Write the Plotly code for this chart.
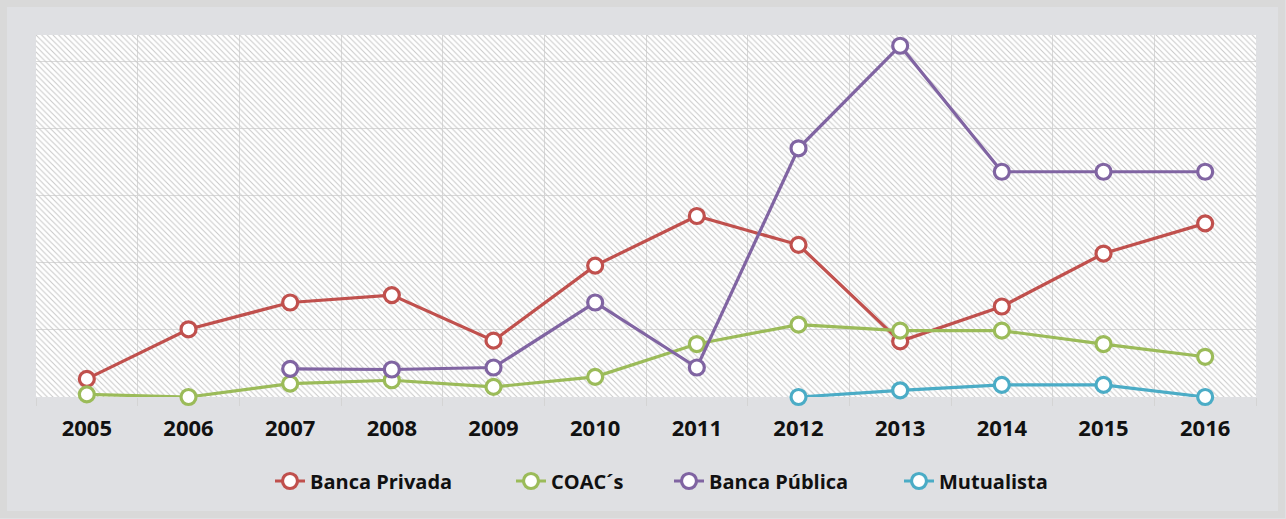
import plotly.graph_objects as go

years = ["2005", "2006", "2007", "2008", "2009", "2010",
         "2011", "2012", "2013", "2014", "2015", "2016"]

banca_privada = [0.27, 1.01, 1.41, 1.52, 0.84, 1.96, 2.70, 2.27, 0.83, 1.35, 2.14, 2.59]
coacs = [0.04, 0.00, 0.20, 0.25, 0.15, 0.30, 0.79, 1.08, 0.99, 0.99, 0.79, 0.60]
banca_publica = [None, None, 0.42, 0.41, 0.44, 1.41, 0.44, 3.71, 5.24, 3.36, 3.36, 3.36]
mutualista = [None, None, None, None, None, None, None, 0.00, 0.10, 0.18, 0.18, 0.00]

series = [
    ("Banca Privada", banca_privada, "#c0504d"),
    ("COAC´s", coacs, "#9bbb59"),
    ("Banca Pública", banca_publica, "#8064a2"),
    ("Mutualista", mutualista, "#4bacc6"),
]

# left pixel position of each legend label
legend_text_x = [312, 553, 711, 941]

y_top = 5.4
x_pos = list(range(len(years)))

W, H = 1286, 519
ml, mr, mt, mb = 36, 30, 35, 122
pw, ph = W - ml - mr, H - mt - mb

fx = lambda px: (px - ml) / pw
fy = lambda py: (H - mb - py) / ph

fig = go.Figure()

# hatched plot background
fig.add_trace(go.Bar(
    x=[(len(years) - 1) / 2], y=[y_top], width=[len(years)],
    marker=dict(color="rgba(0,0,0,0)", line=dict(width=0),
                pattern=dict(shape="\\", size=4, solidity=0.25,
                             fgcolor="#c8c8c8", fillmode="replace")),
    showlegend=False, hoverinfo="skip",
))

legend_ids = ["legend", "legend2", "legend3", "legend4"]
for (name, vals, color), lid in zip(series, legend_ids):
    fig.add_trace(go.Scatter(
        x=x_pos, y=vals, name=name, mode="lines+markers",
        line=dict(color=color, width=3.2),
        marker=dict(symbol="circle", size=15, color="white",
                    line=dict(color=color, width=3.2)),
        cliponaxis=False, connectgaps=False, legend=lid,
    ))

# outer frame around the whole chart
fig.add_shape(type="rect", xref="paper", yref="paper",
              x0=fx(3.5), x1=fx(W - 4.5), y0=fy(H - 4.5), y1=fy(3.5),
              line=dict(color="#d9d9d9", width=7), fillcolor="rgba(0,0,0,0)",
              layer="below")

legend_font = dict(family="Open Sans", size=20, weight="bold", color="#111111")
legend_layout = {}
for lid, tx in zip(legend_ids, legend_text_x):
    legend_layout[lid] = dict(
        orientation="h", x=fx(tx - 42), xanchor="left",
        y=fy(481), yanchor="middle", bgcolor="rgba(0,0,0,0)",
        font=legend_font,
    )

fig.update_layout(
    width=W, height=H,
    margin=dict(l=ml, r=mr, t=mt, b=mb, pad=0),
    paper_bgcolor="#dfe0e3",
    plot_bgcolor="#ffffff",
    bargap=0,
    font=dict(family="Open Sans", color="#000000"),
    showlegend=True,
    **legend_layout,
    xaxis=dict(
        range=[-0.5, len(years) - 0.5],
        tickmode="array", tickvals=x_pos, ticktext=years,
        ticks="", showgrid=False, zeroline=False, showline=False,
        tickfont=dict(family="Open Sans", size=22, weight="bold", color="#111111"),
        ticklabelstandoff=16,
        minor=dict(tickmode="linear", tick0=0.5, dtick=1, ticks="outside",
                   ticklen=8, tickcolor="#d4d4d4", tickwidth=1,
                   showgrid=True, gridcolor="#d9d9d9", gridwidth=1),
    ),
    yaxis=dict(
        range=[0, y_top], tickmode="linear", tick0=0, dtick=1,
        showticklabels=False, ticks="", showgrid=True,
        gridcolor="#d9d9d9", gridwidth=1, zeroline=False, showline=False,
    ),
)

fig.write_html("out.html")
